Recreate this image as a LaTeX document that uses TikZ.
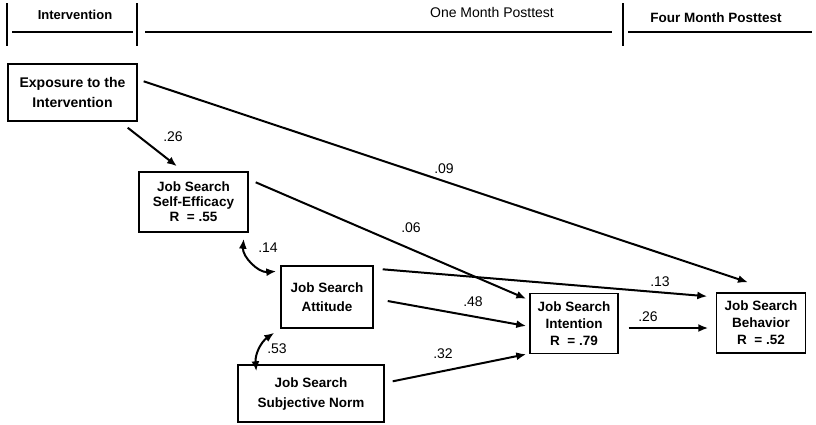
\documentclass[tikz,border=0pt]{standalone}
\usepackage{fontspec}
\setmainfont{Liberation Sans}
\usetikzlibrary{arrows.meta,calc}
\tikzset{
  box/.style={draw, line width=1.4pt, align=center, inner sep=0pt},
  conn/.style={line width=2pt, -{Latex[length=10pt,width=8pt]}},
  dconn/.style={line width=2pt, {Latex[length=10pt,width=8pt]}-{Latex[length=10pt,width=8pt]}},
  lbl/.style={font=\fontsize{14}{16}\selectfont, inner sep=0pt},
  hdr/.style={inner sep=0pt},
  rule/.style={line width=1.3pt}
}
\begin{document}
\begin{tikzpicture}[x=1pt,y=-1pt]
\useasboundingbox (0,0) rectangle (816,424);
% header
\draw[rule] (7,3) -- (7,46);
\draw[rule] (137,3) -- (137,46);
\draw[rule] (623,3) -- (623,46);
\draw[rule] (12,32) -- (133,32);
\draw[rule] (145,32) -- (612,32);
\draw[rule] (628,32) -- (812,32);
\node[hdr, font=\bfseries\fontsize{13}{15}\selectfont] (h1) at (75,15) {Intervention};
\node[hdr, font=\fontsize{14}{16}\selectfont] (h2) at (492,12) {One Month Posttest};
\node[hdr, font=\bfseries\fontsize{13.5}{16}\selectfont] (h3) at (716,18) {Four Month Posttest};
% boxes
\node[box, minimum width=129pt, minimum height=57pt, font=\bfseries\fontsize{14}{20}\selectfont] (expo) at (72.5,92.5) {Exposure to the\\Intervention};
\node[box, minimum width=109pt, minimum height=60pt, font=\bfseries\fontsize{13.5}{15}\selectfont] (eff) at (193.5,202) {Job Search\\Self-Efficacy\\R\ \ = .55};
\node[box, minimum width=92pt, minimum height=62pt, font=\bfseries\fontsize{13.5}{19}\selectfont] (att) at (327,297) {Job Search\\Attitude};
\node[box, minimum width=146pt, minimum height=57pt, font=\bfseries\fontsize{13.5}{20}\selectfont] (norm) at (311,393.5) {Job Search\\Subjective Norm};
\node[box, minimum width=88pt, minimum height=60pt, font=\bfseries\fontsize{13.5}{17}\selectfont] (int) at (574,323.5) {Job Search\\Intention\\R\ \ = .79};
\node[box, minimum width=89pt, minimum height=60pt, font=\bfseries\fontsize{13.5}{17}\selectfont] (beh) at (761,323) {Job Search\\Behavior\\R\ \ = .52};
% connectors
\draw[conn] ([xshift=6pt,yshift=-18pt]expo.north east) -- ([xshift=-13pt,yshift=10pt]beh.north);
\draw[conn] ([xshift=-10pt,yshift=-6pt]expo.south east) -- ([xshift=-16.5pt,yshift=5pt]eff.north);
\draw[conn] ([xshift=7pt,yshift=-11pt]eff.north east) -- ([xshift=-3pt,yshift=-6pt]int.north west);
\draw[conn] ([xshift=9pt,yshift=-4pt]att.north east) -- ([xshift=-8.5pt,yshift=-4pt]beh.north west);
\draw[conn] ([xshift=14pt,yshift=-4pt]att.east) -- ([xshift=-3pt,yshift=-2.5pt]int.west);
\draw[conn] ([xshift=8pt,yshift=-17pt]norm.north east) -- ([xshift=-3pt]int.south west);
\draw[conn] ([xshift=10pt,yshift=-4.5pt]int.east) -- ([xshift=-7.5pt,yshift=-5pt]beh.west);
\draw[dconn] ([xshift=-5pt,yshift=-6pt]eff.south east) to[bend right=50] ([xshift=-4pt,yshift=-6pt]att.north west);
\draw[dconn] ([xshift=-6pt,yshift=-4pt]att.south west) to[bend right=30] ([xshift=19pt,yshift=-7pt]norm.north west);
% labels
\node[lbl] (l1) at (173,137) {.26};
\node[lbl] (l2) at (444,169) {.09};
\node[lbl] (l3) at (411,228) {.06};
\node[lbl] (l4) at (268,248) {.14};
\node[lbl] (l5) at (660,282) {.13};
\node[lbl] (l6) at (473,302) {.48};
\node[lbl] (l7) at (277,349) {.53};
\node[lbl] (l8) at (443,354) {.32};
\node[lbl] (l9) at (648,317) {.26};
\end{tikzpicture}
\end{document}
